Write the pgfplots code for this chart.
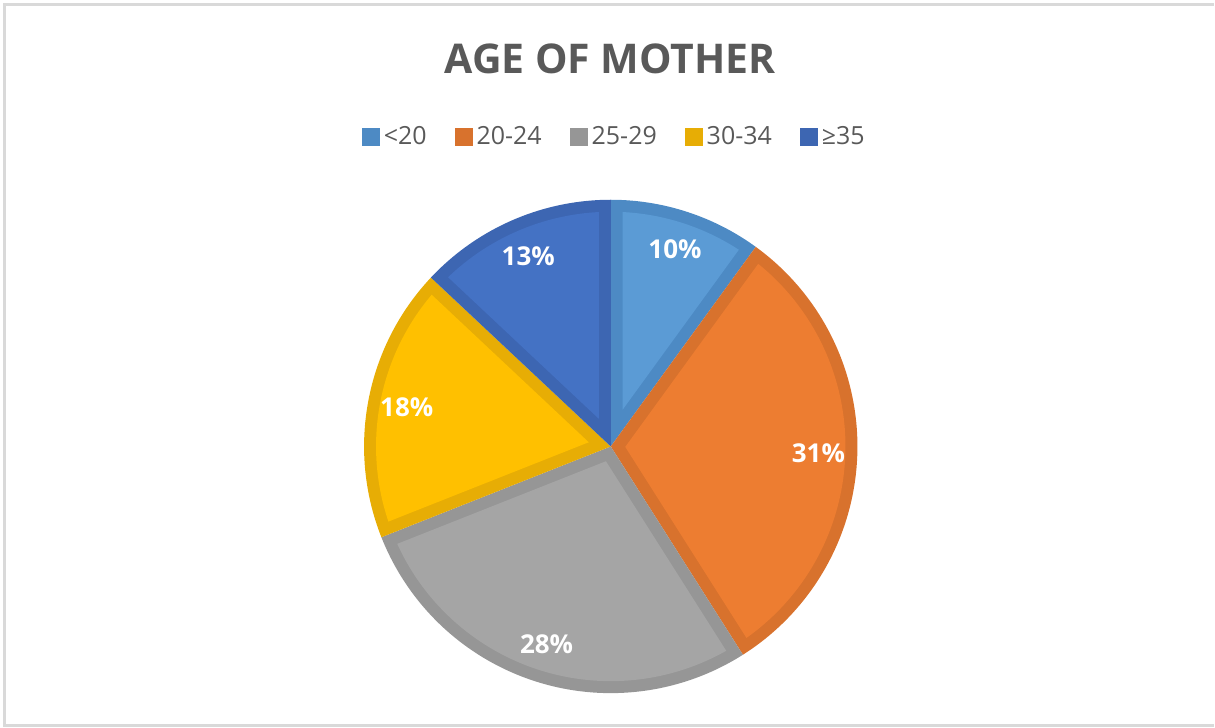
\documentclass[border=0pt]{standalone}
\usepackage{pgfplots}
\pgfplotsset{compat=1.18}
\usepackage{pgfplotstable}
\usepackage{fontspec}
\setmainfont{Open Sans}
\definecolor{cA}{HTML}{5B9BD5}\definecolor{cAd}{HTML}{4D8AC4}
\definecolor{cB}{HTML}{ED7D31}\definecolor{cBd}{HTML}{D8722D}
\definecolor{cC}{HTML}{A5A5A5}\definecolor{cCd}{HTML}{969696}
\definecolor{cD}{HTML}{FFC000}\definecolor{cDd}{HTML}{E7AD05}
\definecolor{cE}{HTML}{4472C4}\definecolor{cEd}{HTML}{3D66B2}
\definecolor{txt}{HTML}{595959}
\definecolor{frame}{HTML}{D9D9D9}

% shares in percent, clockwise from 12 o'clock
\pgfplotstableread{
idx before share
0 0  10
1 10 31
2 41 28
3 69 18
4 87 13
}\piedata

\def\cx{611.5}\def\cy{281}\def\R{247}\def\W{12}\def\LR{208}
\tikzset{plabel/.style={text=white,font=\bfseries\fontsize{13}{16}\selectfont}}

\newcommand\mkslice[4]{% #1 row, #2 fill, #3 dark, #4 label
  \pgfplotstablegetelem{#1}{before}\of\piedata\let\bef\pgfplotsretval
  \pgfplotstablegetelem{#1}{share}\of\piedata\let\shr\pgfplotsretval
  \pgfmathsetmacro\sa{90-3.6*\bef}%
  \pgfmathsetmacro\ea{90-3.6*(\bef+\shr)}%
  \pgfmathsetmacro\ma{90-3.6*(\bef+\shr/2)}%
  \pgfmathsetmacro\ap{\W/sin(1.8*\shr)}%
  \pgfmathsetmacro\rr{\R-\W}%
  \pgfmathsetmacro\dl{asin(\W/\rr)}%
  \pgfmathsetmacro\ia{\sa-\dl}%
  \pgfmathsetmacro\ib{\ea+\dl}%
  \pgfmathsetmacro\ox{\cx+\R*cos(\sa)}\pgfmathsetmacro\oy{\cy+\R*sin(\sa)}%
  \pgfmathsetmacro\px{\cx+\ap*cos(\ma)}\pgfmathsetmacro\py{\cy+\ap*sin(\ma)}%
  \pgfmathsetmacro\qx{\cx+\rr*cos(\ia)}\pgfmathsetmacro\qy{\cy+\rr*sin(\ia)}%
  \pgfmathsetmacro\lx{\cx+\LR*cos(\ma)}\pgfmathsetmacro\ly{\cy+\LR*sin(\ma)}%
  \pgfmathsetmacro\Rpt{\R/2}\pgfmathsetmacro\rrpt{\rr/2}%
  \edef\tmp{%
    \noexpand\fill[#3] (axis cs:\cx,\cy) -- (axis cs:\ox,\oy) arc[start angle=\sa,end angle=\ea,radius=\Rpt pt] -- cycle;
    \noexpand\fill[#2] (axis cs:\px,\py) -- (axis cs:\qx,\qy) arc[start angle=\ia,end angle=\ib,radius=\rrpt pt] -- cycle;
    \noexpand\node[plabel] at (axis cs:\lx,\ly) {#4};
  }\tmp
}

\begin{document}
\begin{tikzpicture}
\begin{axis}[
  hide axis, x=0.5pt, y=0.5pt,
  xmin=0, xmax=1215, ymin=0, ymax=728,
  enlargelimits=false, clip=false,
  legend columns=-1,
  legend image code/.code={\path[#1] (0pt,-4.5pt) rectangle (9pt,4.5pt);},
  legend style={draw=none, fill=none, at={(axis cs:616,590.5)}, anchor=center,
    font=\fontsize{12.5}{15}\selectfont, text=txt,
    /tikz/every even column/.append style={column sep=12pt}},
]
\path (axis cs:0,0) rectangle (axis cs:1215,728);
\draw[frame, line width=1.5pt] (axis cs:1215,2) -- (axis cs:5,2) -- (axis cs:5,723) -- (axis cs:1215,723);
\node[text=txt, font=\bfseries\fontsize{20.5}{24}\selectfont, anchor=center] at (axis cs:611,669) {AGE OF MOTHER};
\addlegendimage{fill=cAd,draw=none}\addlegendentry{<20}
\addlegendimage{fill=cBd,draw=none}\addlegendentry{20-24}
\addlegendimage{fill=cCd,draw=none}\addlegendentry{25-29}
\addlegendimage{fill=cDd,draw=none}\addlegendentry{30-34}
\addlegendimage{fill=cEd,draw=none}\addlegendentry{≥35}
\mkslice{0}{cA}{cAd}{10\%}
\mkslice{1}{cB}{cBd}{31\%}
\mkslice{2}{cC}{cCd}{28\%}
\mkslice{3}{cD}{cDd}{18\%}
\mkslice{4}{cE}{cEd}{13\%}
\end{axis}
\end{tikzpicture}
\end{document}
